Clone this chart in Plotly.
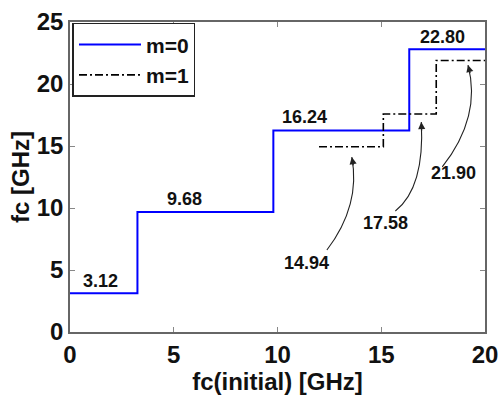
import math
import plotly.graph_objects as go

# data
m0_x = [0, 3.25, 9.8, 16.35, 20]
m0_y = [3.12, 9.68, 16.24, 22.80, 22.80]
m1_x = [12.0, 15.1, 17.65, 20]
m1_y = [14.94, 17.58, 21.90, 21.90]
m0_labels = ["3.12", "9.68", "16.24", "22.80"]
m1_labels = ["14.94", "17.58", "21.90"]
x_ticks = [0, 5, 10, 15, 20]
y_ticks = [0, 5, 10, 15, 20, 25]

FONT = "Liberation Sans, Arial, sans-serif"
XS, YS = 20.8, 12.4  # px per unit (for arrowhead direction)

fig = go.Figure()
fig.add_trace(go.Scatter(x=m0_x, y=m0_y, mode="lines", line_shape="hv", name="m=0",
                         line=dict(color="#0000ff", width=2)))
fig.add_trace(go.Scatter(x=m1_x, y=m1_y, mode="lines", line_shape="hv", name="m=1",
                         line=dict(color="black", width=1.6, dash="8px,3px,2px,3px")))

# labels for m=0 levels
m0_pos = [(1.46, 4.1), (5.5, 10.7), (11.3, 17.3), (17.95, 23.8)]
for (lx, ly), t in zip(m0_pos, m0_labels):
    fig.add_annotation(x=lx, y=ly, text=t, showarrow=False,
                       font=dict(family=FONT, size=18, color="#111", weight="bold"))

# labels + curved arrows for m=1 levels
m1_pos = [(11.42, 5.56), (15.19, 8.77), (18.46, 12.8)]
curves = [((12.38, 6.61), (14.02, 10.24), (13.58, 14.11)),
          ((15.68, 9.76), (17.1, 11.65), (16.93, 16.94)),
          ((17.94, 13.31), (19.84, 17.38), (19.18, 21.53))]
shapes = []
for (lx, ly), t, (p0, c, p2) in zip(m1_pos, m1_labels, curves):
    fig.add_annotation(x=lx, y=ly, text=t, showarrow=False,
                       font=dict(family=FONT, size=18, color="#111", weight="bold"))
    shapes.append(dict(type="path", xref="x", yref="y",
                       path=f"M {p0[0]},{p0[1]} Q {c[0]},{c[1]} {p2[0]},{p2[1]}",
                       line=dict(color="#222", width=1.1)))
    dx = (p2[0] - c[0]) * XS
    dy = (p2[1] - c[1]) * YS
    n = math.hypot(dx, dy)
    fig.add_annotation(x=p2[0], y=p2[1], text="", showarrow=True, arrowhead=2,
                       arrowsize=1.3, arrowwidth=1.1, arrowcolor="#222",
                       ax=-dx / n * 10, ay=dy / n * 10, standoff=0)

fig.update_layout(
    shapes=shapes,
    width=500, height=395,
    margin=dict(l=69.5, r=15, t=22, b=63),
    paper_bgcolor="white", plot_bgcolor="white",
    font=dict(family=FONT, color="#111"),
    showlegend=True,
    legend=dict(x=0.006, y=0.997, xanchor="left", yanchor="top",
                bordercolor="#222", borderwidth=1.5, bgcolor="white",
                font=dict(family=FONT, size=21, weight="bold"),
                tracegroupgap=0, itemwidth=62),
)
axis_common = dict(showgrid=False, zeroline=False, showline=True, linecolor="#666",
                   linewidth=1.5, mirror="ticks", ticks="inside", ticklen=5,
                   tickcolor="#888", tickwidth=1, automargin=False,
                   tickfont=dict(family=FONT, size=24, weight="bold", color="#111"))
fig.update_xaxes(range=[0, 20], tickvals=x_ticks,
                 title=dict(text="fc(initial) [GHz]", standoff=0,
                            font=dict(family=FONT, size=24, weight="bold", color="#111")),
                 **axis_common)
fig.update_yaxes(range=[0, 25], tickvals=y_ticks,
                 title=dict(text="fc [GHz]", standoff=0,
                            font=dict(family=FONT, size=24, weight="bold", color="#111")),
                 **axis_common)

fig.write_html("out.html")
